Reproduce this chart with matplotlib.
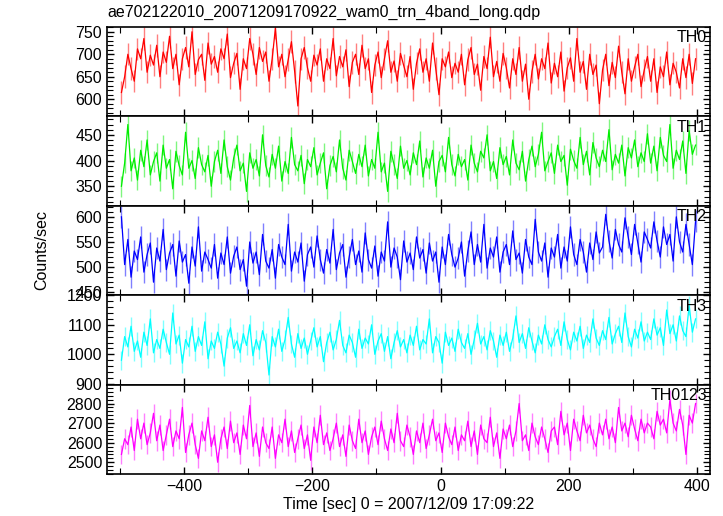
import numpy as np
import matplotlib
matplotlib.use('Agg')
import matplotlib.pyplot as plt
from matplotlib.ticker import MultipleLocator

plt.rcParams['font.family'] = ['Liberation Sans', 'DejaVu Sans']

# Light curve values (counts/sec), 5 s bins from -500 s to +400 s
t_start = -500.0
bin_size = 5.0

th0 = [
    615, 650, 700, 668, 640, 712, 690, 735, 660, 698, 676, 720, 650, 705, 682,
    740, 668, 700, 632, 690, 715, 672, 750, 655, 688, 700, 642, 725, 678, 695,
    660, 712, 690, 745, 648, 680, 702, 622, 690, 668, 735, 700, 655, 715, 684,
    705, 640, 690, 758, 672, 700, 650, 688, 728, 662, 585, 690, 715, 670, 640,
    698, 676, 712, 640, 690, 668, 735, 652, 695, 672, 710, 628, 682, 700, 655,
    720, 668, 690, 615, 676, 705, 648, 690, 730, 660, 685, 640, 702, 675, 650,
    695, 622, 680, 712, 660, 690, 640, 725, 668, 610, 690, 672, 705, 648, 680,
    660, 700, 632, 688, 715, 655, 678, 620, 695, 668, 738, 650, 684, 640, 702,
    670, 625, 690, 655, 715, 640, 678, 600, 662, 700, 645, 690, 668, 725, 636,
    680, 650, 705, 618, 670, 692, 640, 735, 660, 684, 622, 700, 655, 676, 590,
    665, 700, 630, 682, 648, 718, 660, 612, 690, 640, 672, 700, 628, 665, 695,
    640, 690, 615, 672, 650, 705, 632, 680, 660, 625, 690, 648, 700, 635, 690]

th1 = [
    350, 395, 470, 380, 405, 362, 420, 388, 440, 372, 398, 415, 360, 430, 385,
    402, 345, 418, 390, 372, 455, 385, 400, 365, 425, 392, 378, 410, 350, 398,
    420, 375, 440, 388, 362, 405, 430, 380, 395, 340, 415, 385, 402, 370, 450,
    390, 368, 412, 385, 428, 360, 398, 375, 445, 392, 380, 410, 355, 402, 388,
    425, 372, 395, 415, 345, 390, 408, 378, 440, 385, 362, 420, 398, 375, 412,
    388, 430, 370, 402, 385, 455, 378, 395, 340, 418, 392, 365, 428, 385, 400,
    372, 415, 392, 438, 368, 405, 385, 420, 350, 398, 410, 378, 445, 392, 370,
    412, 388, 402, 362, 430, 395, 378, 418, 405, 450, 380, 398, 365, 425, 392,
    408, 372, 440, 395, 382, 418, 360, 402, 428, 388, 412, 455, 380, 398, 415,
    375, 430, 398, 410, 352, 422, 400, 385, 445, 392, 418, 372, 435, 405, 388,
    420, 398, 460, 382, 412, 395, 430, 370, 425, 405, 440, 388, 415, 398, 452,
    395, 428, 380, 445, 410, 398, 470, 385, 420, 402, 438, 375, 458, 412, 430]

th2 = [
    600, 505, 555, 480, 532, 515, 560, 490, 525, 548, 470, 538, 512, 575, 495,
    528, 545, 482, 552, 510, 525, 468, 540, 502, 580, 492, 530, 515, 498, 545,
    478, 528, 505, 560, 488, 522, 540, 495, 515, 462, 550, 508, 530, 485, 565,
    512, 498, 535, 478, 545, 520, 505, 585, 492, 530, 510, 548, 472, 525, 540,
    500, 562, 515, 488, 535, 508, 575, 495, 528, 545, 480, 520, 555, 505, 532,
    490, 568, 515, 498, 542, 482, 530, 512, 590, 500, 538, 520, 475, 552, 510,
    528, 495, 560, 518, 535, 488, 548, 512, 530, 470, 540, 505, 565, 525, 500,
    518, 550, 482, 532, 570, 505, 545, 510, 585, 498, 538, 520, 560, 490, 530,
    545, 505, 572, 515, 528, 488, 555, 520, 505, 595, 530, 512, 548, 480, 538,
    520, 565, 498, 540, 512, 580, 525, 505, 555, 530, 490, 548, 515, 570, 528,
    540, 605, 552, 518, 575, 545, 530, 598, 560, 525, 585, 548, 510, 570, 555,
    538, 590, 552, 520, 580, 545, 565, 512, 600, 550, 530, 585, 545, 505, 592]

th3 = [
    980, 1060, 1025, 1095, 1010, 1045, 990, 1075, 1030, 1120, 1005, 1050, 1020, 1085, 1040,
    1000, 1140, 1035, 1065, 970, 1050, 1025, 1095, 1010, 1060, 1030, 1110, 985, 1045, 1020,
    1075, 1035, 960, 1055, 1090, 1020, 1045, 1005, 1070, 1030, 1100, 995, 1050, 1015, 1080,
    1040, 930, 1060, 1025, 1085, 1010, 1050, 1125, 1035, 990, 1070, 1020, 1055, 1000, 1045,
    1090, 1025, 1060, 975, 1040, 1075, 1015, 1050, 1115, 1030, 1005, 1065, 1040, 990, 1085,
    1020, 1055, 1035, 1100, 1000, 1045, 1070, 1010, 1060, 985, 1040, 1080, 1025, 1050, 1005,
    1065, 1030, 1095, 1015, 1050, 1035, 1120, 1005, 1060, 1040, 970, 1075, 1030, 1055, 1010,
    1085, 1040, 1020, 1070, 1000, 1050, 1105, 1035, 1060, 1015, 1080, 1045, 990, 1065, 1030,
    1075, 1010, 1055, 1130, 1040, 1070, 1020, 1090, 1045, 1005, 1065, 1035, 1100, 1050, 1025,
    1060, 1085, 1030, 1110, 1050, 1015, 1075, 1045, 1095, 1020, 1065, 1040, 1120, 1055, 1030,
    1080, 1050, 1125, 1035, 1070, 1095, 1040, 1140, 1060, 1025, 1085, 1055, 1110, 1045, 1075,
    1050, 1120, 1065, 1090, 1030, 1150, 1070, 1100, 1045, 1130, 1080, 1060, 1165, 1075, 1120]

th0123 = [
    2540, 2620, 2590, 2680, 2560, 2720, 2620, 2700, 2590, 2650, 2750, 2610, 2690, 2560, 2640,
    2720, 2580, 2660, 2620, 2780, 2550, 2640, 2700, 2590, 2520, 2660, 2610, 2730, 2580, 2640,
    2500, 2620, 2680, 2570, 2710, 2600, 2650, 2540, 2690, 2620, 2790, 2580, 2650, 2530, 2680,
    2600, 2570, 2680, 2520, 2640, 2600, 2720, 2580, 2660, 2550, 2620, 2690, 2570, 2640, 2510,
    2680, 2600, 2740, 2590, 2650, 2560, 2620, 2700, 2580, 2640, 2530, 2690, 2610, 2570, 2720,
    2600, 2660, 2540, 2630, 2680, 2590, 2710, 2620, 2560, 2670, 2600, 2750, 2610, 2580, 2690,
    2630, 2540, 2660, 2600, 2700, 2570, 2640, 2720, 2610, 2650, 2550, 2700, 2630, 2590, 2680,
    2560, 2640, 2610, 2710, 2580, 2660, 2540, 2690, 2620, 2600, 2730, 2580, 2650, 2520, 2670,
    2620, 2690, 2580, 2660, 2800, 2610, 2640, 2560, 2700, 2630, 2590, 2680, 2620, 2550, 2660,
    2680, 2590, 2760, 2640, 2700, 2560, 2720, 2660, 2610, 2740, 2650, 2690, 2620, 2580, 2700,
    2640, 2720, 2620, 2680, 2600, 2780, 2660, 2700, 2630, 2740, 2670, 2610, 2720, 2650, 2700,
    2680, 2620, 2760, 2690, 2720, 2650, 2820, 2700, 2660, 2770, 2690, 2540, 2740, 2700, 2800]

# per-panel error bar half-widths (counts/sec)
errors = [25, 20, 22, 32, 50]
names = ['TH0', 'TH1', 'TH2', 'TH3', 'TH0123']
colors = ['#ff0000', '#00ee00', '#0000ff', '#00ffff', '#ff00ff']
ylims = [(562, 761), (312, 486), (444, 622), (897, 1200), (2439, 2896)]
majors = [50, 50, 50, 100, 100]
minors = [10, 10, 10, 20, 20]

series = [th0, th1, th2, th3, th0123]
time = t_start + bin_size * (np.arange(len(th0)) + 0.5)

fig, axes = plt.subplots(5, 1, sharex=True, figsize=(7.23, 5.16), dpi=100)
fig.subplots_adjust(left=0.148, right=0.982, top=0.948, bottom=0.081, hspace=0)

for ax, vals, err, name, col, yl, mj, mn in zip(axes, series, errors, names, colors,
                                                ylims, majors, minors):
    vals = np.array(vals)
    # error bars drawn light, data line on top
    ax.vlines(time, vals - err, vals + err, color=col, alpha=0.5, lw=1.0)
    ax.plot(time, vals, color=col, lw=0.9)
    ax.set_ylim(yl)
    ax.set_xlim(-520, 420)
    ax.yaxis.set_major_locator(MultipleLocator(mj))
    ax.yaxis.set_minor_locator(MultipleLocator(mn))
    ax.xaxis.set_major_locator(MultipleLocator(200))
    ax.xaxis.set_minor_locator(MultipleLocator(100))
    ax.tick_params(which='both', direction='in', top=True, right=True, labelsize=11.5)
    ax.tick_params(which='major', length=5, width=1)
    ax.tick_params(which='minor', length=4, width=0.8)
    for s in ax.spines.values():
        s.set_linewidth(1.2)
    ax.text(0.995, 0.96, name, transform=ax.transAxes, ha='right', va='top', fontsize=11.5)

axes[-1].set_xlabel('Time [sec] 0 = 2007/12/09 17:09:22', fontsize=11.5, labelpad=2)
fig.text(0.058, 0.515, 'Counts/sec', rotation=90, ha='center', va='center', fontsize=11.5)
fig.text(0.149, 0.968, 'ae702122010_20071209170922_wam0_trn_4band_long.qdp', fontsize=11.5,
         ha='left', va='baseline')

plt.savefig('out.png', dpi=100)
